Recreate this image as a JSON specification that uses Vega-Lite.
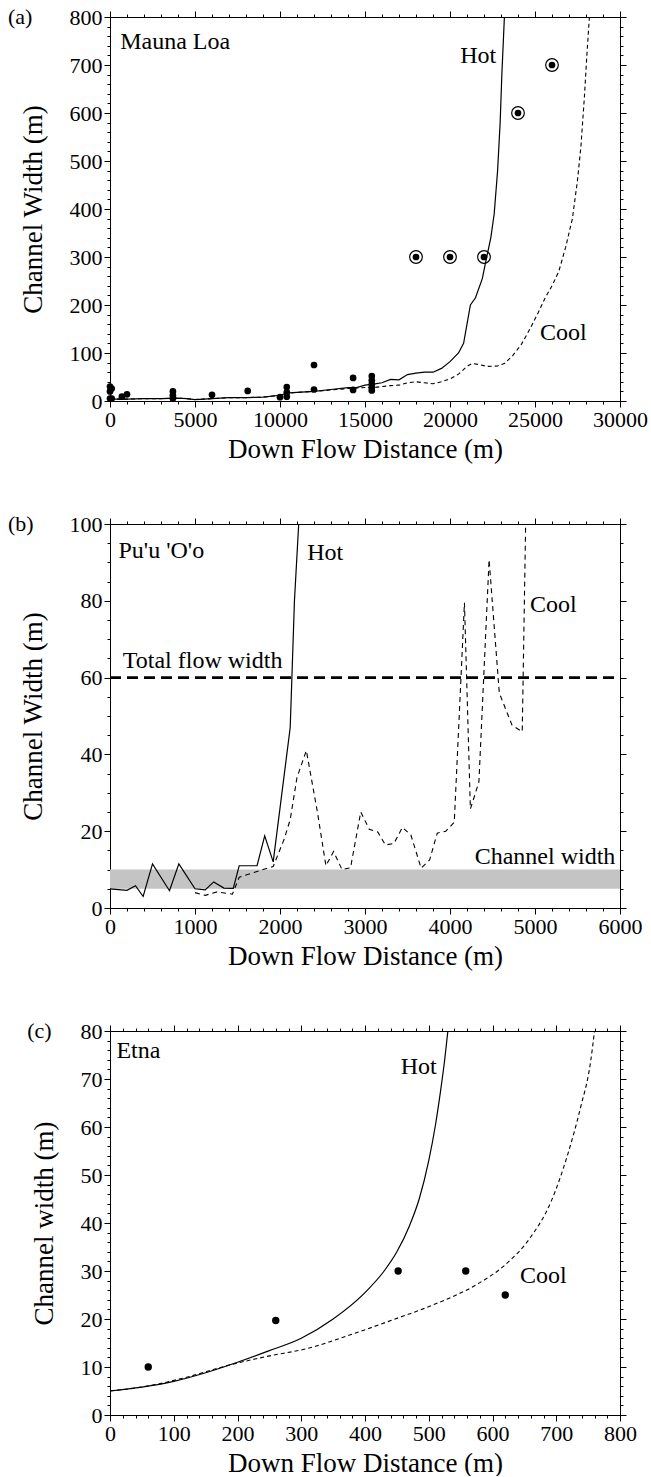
{
  "$schema": "https://vega.github.io/schema/vega-lite/v6.json",
  "background": "white",
  "padding": {"left": 8, "top": 6, "right": 0, "bottom": 0},
  "spacing": 51,
  "config": {
    "view": {"stroke": null},
    "font": "Times New Roman",
    "axis": {"labelFont": "Times New Roman", "labelFontSize": 22, "titleFont": "Times New Roman", "titleFontSize": 27, "titleFontWeight": "normal", "labelColor": "black", "titleColor": "black", "domainColor": "black", "tickColor": "black", "grid": false, "labelPadding": 2, "labelOverlap": false, "labelFlush": false, "format": "d",
      "encode": {"labels": {"update": {"font": {"value": "Times New Roman"}}}, "title": {"update": {"font": {"value": "Times New Roman"}}}}},
    "axisLeft": {"titlePadding": 22},
    "axisBottom": {"titlePadding": 6},
    "text": {"font": "Times New Roman, serif", "fontSize": 24, "color": "black", "align": "left", "baseline": "middle"}
  },
  "datasets": {
    "a_hot": [{"x":0,"y":4},{"x":1000,"y":4},{"x":2000,"y":5},{"x":3000,"y":5},{"x":4000,"y":6},{"x":4500,"y":5},{"x":5000,"y":3},{"x":5500,"y":4},{"x":6000,"y":5},{"x":7000,"y":7},{"x":8000,"y":7},{"x":9000,"y":8},{"x":10000,"y":12},{"x":10500,"y":17},{"x":11000,"y":18},{"x":12000,"y":20},{"x":13000,"y":24},{"x":14000,"y":28},{"x":14500,"y":28},{"x":15000,"y":33},{"x":15500,"y":35},{"x":16000,"y":38},{"x":16500,"y":45},{"x":17000,"y":44},{"x":17500,"y":55},{"x":18000,"y":58},{"x":18500,"y":60},{"x":19000,"y":60},{"x":19500,"y":68},{"x":20000,"y":82},{"x":20500,"y":100},{"x":20800,"y":120},{"x":21000,"y":160},{"x":21200,"y":200},{"x":21500,"y":215},{"x":21900,"y":255},{"x":22100,"y":290},{"x":22400,"y":340},{"x":22600,"y":390},{"x":22800,"y":480},{"x":22950,"y":580},{"x":23050,"y":680},{"x":23150,"y":760},{"x":23200,"y":800}],
    "a_cool": [{"x":0,"y":4},{"x":1000,"y":4},{"x":2000,"y":5},{"x":3000,"y":5},{"x":4000,"y":6},{"x":4500,"y":5},{"x":5000,"y":3},{"x":5500,"y":4},{"x":6000,"y":5},{"x":7000,"y":7},{"x":8000,"y":7},{"x":9000,"y":8},{"x":10000,"y":12},{"x":10500,"y":16},{"x":11000,"y":18},{"x":12000,"y":20},{"x":13000,"y":23},{"x":14000,"y":26},{"x":15000,"y":28},{"x":15500,"y":28},{"x":16000,"y":30},{"x":16500,"y":32},{"x":17000,"y":33},{"x":17500,"y":38},{"x":18000,"y":40},{"x":18500,"y":38},{"x":19000,"y":36},{"x":19500,"y":40},{"x":20000,"y":46},{"x":20500,"y":56},{"x":21000,"y":72},{"x":21300,"y":78},{"x":21700,"y":76},{"x":22200,"y":72},{"x":22800,"y":73},{"x":23200,"y":78},{"x":23700,"y":95},{"x":24200,"y":118},{"x":24700,"y":150},{"x":25200,"y":185},{"x":25600,"y":215},{"x":26000,"y":240},{"x":26400,"y":270},{"x":26800,"y":320},{"x":27200,"y":380},{"x":27500,"y":460},{"x":27700,"y":530},{"x":27900,"y":630},{"x":28050,"y":720},{"x":28200,"y":800}],
    "a_pts": [{"x":0,"y":30},{"x":100,"y":26},{"x":0,"y":20},{"x":100,"y":5},{"x":0,"y":5},{"x":700,"y":9},{"x":1000,"y":14},{"x":3700,"y":20},{"x":3700,"y":12},{"x":3700,"y":5},{"x":6000,"y":13},{"x":8100,"y":21},{"x":10000,"y":8},{"x":10400,"y":29},{"x":10400,"y":18},{"x":10400,"y":9},{"x":12000,"y":75},{"x":12000,"y":24},{"x":14300,"y":48},{"x":14300,"y":23},{"x":15400,"y":52},{"x":15400,"y":43},{"x":15400,"y":35},{"x":15400,"y":28},{"x":15400,"y":22},{"x":18000,"y":300},{"x":20000,"y":300},{"x":22000,"y":300},{"x":24000,"y":600},{"x":26000,"y":700}],
    "a_ring": [{"x":18000,"y":300},{"x":20000,"y":300},{"x":22000,"y":300},{"x":24000,"y":600},{"x":26000,"y":700}],
    "a_txt": [{"x":600,"y":748,"label":"Mauna Loa"},{"x":20600,"y":718,"label":"Hot"},{"x":25300,"y":141,"label":"Cool"},{"x":-6000,"y":800,"label":"(a)"}],
    "b_band": [{"x":0,"x2":6000,"lo":5,"hi":10}],
    "b_total": [{"x":0,"x2":6000,"y":60}],
    "b_hot": [{"x":0,"y":5},{"x":200,"y":4.6},{"x":300,"y":5.8},{"x":390,"y":3},{"x":500,"y":11.5},{"x":700,"y":4.5},{"x":810,"y":11.5},{"x":1000,"y":5},{"x":1120,"y":4.7},{"x":1220,"y":6.8},{"x":1340,"y":5.2},{"x":1450,"y":5.1},{"x":1520,"y":11},{"x":1730,"y":11},{"x":1820,"y":18.8},{"x":1920,"y":12},{"x":2120,"y":47},{"x":2140,"y":60},{"x":2170,"y":80},{"x":2220,"y":100}],
    "b_cool": [{"x":1000,"y":4},{"x":1120,"y":3.3},{"x":1260,"y":4.2},{"x":1440,"y":3.6},{"x":1520,"y":8},{"x":1800,"y":10},{"x":1920,"y":10.8},{"x":2050,"y":18},{"x":2120,"y":23},{"x":2200,"y":34},{"x":2310,"y":41},{"x":2440,"y":25},{"x":2540,"y":11},{"x":2630,"y":14.7},{"x":2730,"y":10},{"x":2830,"y":10.5},{"x":2950,"y":25},{"x":3050,"y":20.5},{"x":3150,"y":19.8},{"x":3240,"y":16.4},{"x":3340,"y":16.8},{"x":3440,"y":21},{"x":3540,"y":19},{"x":3660,"y":10.4},{"x":3760,"y":12.5},{"x":3850,"y":19.5},{"x":3950,"y":20},{"x":4050,"y":22.3},{"x":4100,"y":46},{"x":4170,"y":79.5},{"x":4240,"y":25.8},{"x":4340,"y":32.8},{"x":4460,"y":90.7},{"x":4580,"y":56},{"x":4730,"y":47.6},{"x":4850,"y":45.9},{"x":4890,"y":100}],
    "b_txt": [{"x":100,"y":93,"label":"Pu'u 'O'o"},{"x":2320,"y":92.5,"label":"Hot"},{"x":150,"y":64.3,"label":"Total flow width"},{"x":4940,"y":79,"label":"Cool"},{"x":4290,"y":13.2,"label":"Channel width"},{"x":-1200,"y":100,"label":"(b)"}],
    "c_hot": [{"x":0,"y":5},{"x":50,"y":5.8},{"x":100,"y":7},{"x":150,"y":8.8},{"x":200,"y":11},{"x":250,"y":13.4},{"x":300,"y":16},{"x":350,"y":20},{"x":400,"y":25.5},{"x":430,"y":30},{"x":450,"y":34},{"x":470,"y":39.5},{"x":485,"y":45},{"x":500,"y":53},{"x":510,"y":60},{"x":518,"y":67},{"x":525,"y":74},{"x":530,"y":80}],
    "c_cool": [{"x":0,"y":5},{"x":62,"y":6.1},{"x":115,"y":7.7},{"x":187,"y":10.4},{"x":246,"y":12.2},{"x":311,"y":13.9},{"x":377,"y":16.7},{"x":443,"y":19.8},{"x":508,"y":23},{"x":574,"y":27.1},{"x":620,"y":31.3},{"x":659,"y":36.9},{"x":692,"y":44.5},{"x":718,"y":54.3},{"x":738,"y":64},{"x":754,"y":73.7},{"x":760,"y":80}],
    "c_pts": [{"x":60,"y":10},{"x":260,"y":19.7},{"x":452,"y":30},{"x":558,"y":30},{"x":620,"y":25}],
    "c_txt": [{"x":10,"y":75.8,"label":"Etna"},{"x":456,"y":72.5,"label":"Hot"},{"x":643,"y":29,"label":"Cool"},{"x":-130,"y":80,"label":"(c)"}]
  },
  "vconcat": [
    {
      "width": 510, "height": 384,
      "resolve": {"axis": {"x": "independent", "y": "independent"}},
      "layer": [
        {"data": {"name": "a_hot"}, "mark": {"type": "line", "color": "black", "strokeWidth": 1.2},
         "encoding": {
           "x": {"field": "x", "type": "quantitative", "scale": {"domain": [0, 30000], "nice": false, "zero": false}, "axis": {"orient": "bottom", "values": [0,5000,10000,15000,20000,25000,30000], "title": "Down Flow Distance (m)", "tickSize": 6}},
           "y": {"field": "y", "type": "quantitative", "scale": {"domain": [0, 800], "nice": false, "zero": false}, "axis": {"orient": "left", "values": [0,100,200,300,400,500,600,700,800], "title": "Channel Width (m)", "tickSize": 6}}
         }},
        {"data": {"name": "a_cool"}, "mark": {"type": "line", "color": "black", "strokeWidth": 1.1, "strokeDash": [4, 3]},
         "encoding": {
           "x": {"field": "x", "type": "quantitative", "scale": {"domain": [0, 30000], "nice": false, "zero": false}, "axis": {"orient": "top", "values": [0,5000,10000,15000,20000,25000,30000], "labels": false, "title": null, "tickSize": 6}},
           "y": {"field": "y", "type": "quantitative", "scale": {"domain": [0, 800], "nice": false, "zero": false}, "axis": {"orient": "right", "values": [0,100,200,300,400,500,600,700,800], "labels": false, "title": null, "tickSize": 6}}
         }},
        {"data": {"name": "a_pts"}, "mark": {"type": "circle", "color": "black", "size": 45, "opacity": 1},
         "encoding": {
           "x": {"field": "x", "type": "quantitative", "scale": {"domain": [0, 30000], "nice": false, "zero": false}, "axis": {"orient": "bottom", "values": [0,1000,2000,3000,4000,5000,6000,7000,8000,9000,10000,11000,12000,13000,14000,15000,16000,17000,18000,19000,20000,21000,22000,23000,24000,25000,26000,27000,28000,29000,30000], "labels": false, "title": null, "tickSize": 3, "domain": false}},
           "y": {"field": "y", "type": "quantitative", "scale": {"domain": [0, 800], "nice": false, "zero": false}, "axis": {"orient": "left", "values": [0,20,40,60,80,100,120,140,160,180,200,220,240,260,280,300,320,340,360,380,400,420,440,460,480,500,520,540,560,580,600,620,640,660,680,700,720,740,760,780,800], "labels": false, "title": null, "tickSize": 3, "domain": false}}
         }},
        {"data": {"name": "a_ring"}, "mark": {"type": "point", "shape": "circle", "color": "black", "filled": false, "size": 160, "strokeWidth": 1.2, "opacity": 1},
         "encoding": {
           "x": {"field": "x", "type": "quantitative", "scale": {"domain": [0, 30000], "nice": false, "zero": false}, "axis": {"orient": "top", "values": [0,1000,2000,3000,4000,5000,6000,7000,8000,9000,10000,11000,12000,13000,14000,15000,16000,17000,18000,19000,20000,21000,22000,23000,24000,25000,26000,27000,28000,29000,30000], "labels": false, "title": null, "tickSize": 3, "domain": false}},
           "y": {"field": "y", "type": "quantitative", "scale": {"domain": [0, 800], "nice": false, "zero": false}, "axis": {"orient": "right", "values": [0,20,40,60,80,100,120,140,160,180,200,220,240,260,280,300,320,340,360,380,400,420,440,460,480,500,520,540,560,580,600,620,640,660,680,700,720,740,760,780,800], "labels": false, "title": null, "tickSize": 3, "domain": false}}
         }},
        {"data": {"name": "a_txt"}, "mark": {"type": "text"},
         "encoding": {
           "x": {"field": "x", "type": "quantitative", "scale": {"domain": [0, 30000], "nice": false, "zero": false}, "axis": null},
           "y": {"field": "y", "type": "quantitative", "scale": {"domain": [0, 800], "nice": false, "zero": false}, "axis": null},
           "text": {"field": "label"},
           "size": {"condition": {"test": "datum.label === '(a)'", "value": 22}, "value": 24}
         }}
      ]
    },
    {
      "width": 510, "height": 384,
      "resolve": {"axis": {"x": "independent", "y": "independent"}},
      "layer": [
        {"data": {"name": "b_band"}, "mark": {"type": "rect", "color": "#c4c4c4", "opacity": 1},
         "encoding": {
           "x": {"field": "x", "type": "quantitative", "scale": {"domain": [0, 6000], "nice": false, "zero": false}, "axis": {"orient": "bottom", "values": [0,1000,2000,3000,4000,5000,6000], "title": "Down Flow Distance (m)", "tickSize": 6}},
           "x2": {"field": "x2"},
           "y": {"field": "lo", "type": "quantitative", "scale": {"domain": [0, 100], "nice": false, "zero": false}, "axis": {"orient": "left", "values": [0,20,40,60,80,100], "title": "Channel Width (m)", "tickSize": 6}},
           "y2": {"field": "hi"}
         }},
        {"data": {"name": "b_total"}, "mark": {"type": "rule", "color": "black", "strokeWidth": 2.6, "strokeDash": [11, 6]},
         "encoding": {
           "x": {"field": "x", "type": "quantitative", "scale": {"domain": [0, 6000], "nice": false, "zero": false}, "axis": {"orient": "top", "values": [0,1000,2000,3000,4000,5000,6000], "labels": false, "title": null, "tickSize": 6}},
           "x2": {"field": "x2"},
           "y": {"field": "y", "type": "quantitative", "scale": {"domain": [0, 100], "nice": false, "zero": false}, "axis": {"orient": "right", "values": [0,20,40,60,80,100], "labels": false, "title": null, "tickSize": 6}}
         }},
        {"data": {"name": "b_hot"}, "mark": {"type": "line", "color": "black", "strokeWidth": 1.2},
         "encoding": {
           "x": {"field": "x", "type": "quantitative", "scale": {"domain": [0, 6000], "nice": false, "zero": false}, "axis": {"orient": "bottom", "values": [0,200,400,600,800,1000,1200,1400,1600,1800,2000,2200,2400,2600,2800,3000,3200,3400,3600,3800,4000,4200,4400,4600,4800,5000,5200,5400,5600,5800,6000], "labels": false, "title": null, "tickSize": 3, "domain": false}},
           "y": {"field": "y", "type": "quantitative", "scale": {"domain": [0, 100], "nice": false, "zero": false}, "axis": {"orient": "left", "values": [0,5,10,15,20,25,30,35,40,45,50,55,60,65,70,75,80,85,90,95,100], "labels": false, "title": null, "tickSize": 3, "domain": false}}
         }},
        {"data": {"name": "b_cool"}, "mark": {"type": "line", "color": "black", "strokeWidth": 1.1, "strokeDash": [5, 4]},
         "encoding": {
           "x": {"field": "x", "type": "quantitative", "scale": {"domain": [0, 6000], "nice": false, "zero": false}, "axis": {"orient": "top", "values": [0,200,400,600,800,1000,1200,1400,1600,1800,2000,2200,2400,2600,2800,3000,3200,3400,3600,3800,4000,4200,4400,4600,4800,5000,5200,5400,5600,5800,6000], "labels": false, "title": null, "tickSize": 3, "domain": false}},
           "y": {"field": "y", "type": "quantitative", "scale": {"domain": [0, 100], "nice": false, "zero": false}, "axis": {"orient": "right", "values": [0,5,10,15,20,25,30,35,40,45,50,55,60,65,70,75,80,85,90,95,100], "labels": false, "title": null, "tickSize": 3, "domain": false}}
         }},
        {"data": {"name": "b_txt"}, "mark": {"type": "text"},
         "encoding": {
           "x": {"field": "x", "type": "quantitative", "scale": {"domain": [0, 6000], "nice": false, "zero": false}, "axis": null},
           "y": {"field": "y", "type": "quantitative", "scale": {"domain": [0, 100], "nice": false, "zero": false}, "axis": null},
           "text": {"field": "label"},
           "size": {"condition": {"test": "datum.label === '(b)'", "value": 22}, "value": 24}
         }}
      ]
    },
    {
      "width": 510, "height": 384,
      "resolve": {"axis": {"x": "independent", "y": "independent"}},
      "layer": [
        {"data": {"name": "c_hot"}, "mark": {"type": "line", "color": "black", "strokeWidth": 1.2, "interpolate": "monotone"},
         "encoding": {
           "x": {"field": "x", "type": "quantitative", "scale": {"domain": [0, 800], "nice": false, "zero": false}, "axis": {"orient": "bottom", "values": [0,100,200,300,400,500,600,700,800], "title": "Down Flow Distance (m)", "tickSize": 6}},
           "y": {"field": "y", "type": "quantitative", "scale": {"domain": [0, 80], "nice": false, "zero": false}, "axis": {"orient": "left", "values": [0,10,20,30,40,50,60,70,80], "title": "Channel width (m)", "tickSize": 6}}
         }},
        {"data": {"name": "c_cool"}, "mark": {"type": "line", "color": "black", "strokeWidth": 1.1, "strokeDash": [4, 3], "interpolate": "monotone"},
         "encoding": {
           "x": {"field": "x", "type": "quantitative", "scale": {"domain": [0, 800], "nice": false, "zero": false}, "axis": {"orient": "top", "values": [0,100,200,300,400,500,600,700,800], "labels": false, "title": null, "tickSize": 6}},
           "y": {"field": "y", "type": "quantitative", "scale": {"domain": [0, 80], "nice": false, "zero": false}, "axis": {"orient": "right", "values": [0,10,20,30,40,50,60,70,80], "labels": false, "title": null, "tickSize": 6}}
         }},
        {"data": {"name": "c_pts"}, "mark": {"type": "circle", "color": "black", "size": 55, "opacity": 1},
         "encoding": {
           "x": {"field": "x", "type": "quantitative", "scale": {"domain": [0, 800], "nice": false, "zero": false}, "axis": {"orient": "bottom", "values": [0,20,40,60,80,100,120,140,160,180,200,220,240,260,280,300,320,340,360,380,400,420,440,460,480,500,520,540,560,580,600,620,640,660,680,700,720,740,760,780,800], "labels": false, "title": null, "tickSize": 3, "domain": false}},
           "y": {"field": "y", "type": "quantitative", "scale": {"domain": [0, 80], "nice": false, "zero": false}, "axis": {"orient": "left", "values": [0,2,4,6,8,10,12,14,16,18,20,22,24,26,28,30,32,34,36,38,40,42,44,46,48,50,52,54,56,58,60,62,64,66,68,70,72,74,76,78,80], "labels": false, "title": null, "tickSize": 3, "domain": false}}
         }},
        {"data": {"name": "c_txt"}, "mark": {"type": "text"},
         "encoding": {
           "x": {"field": "x", "type": "quantitative", "scale": {"domain": [0, 800], "nice": false, "zero": false}, "axis": {"orient": "top", "values": [0,20,40,60,80,100,120,140,160,180,200,220,240,260,280,300,320,340,360,380,400,420,440,460,480,500,520,540,560,580,600,620,640,660,680,700,720,740,760,780,800], "labels": false, "title": null, "tickSize": 3, "domain": false}},
           "y": {"field": "y", "type": "quantitative", "scale": {"domain": [0, 80], "nice": false, "zero": false}, "axis": {"orient": "right", "values": [0,2,4,6,8,10,12,14,16,18,20,22,24,26,28,30,32,34,36,38,40,42,44,46,48,50,52,54,56,58,60,62,64,66,68,70,72,74,76,78,80], "labels": false, "title": null, "tickSize": 3, "domain": false}},
           "text": {"field": "label"},
           "size": {"condition": {"test": "datum.label === '(c)'", "value": 22}, "value": 24}
         }}
      ]
    }
  ]
}
